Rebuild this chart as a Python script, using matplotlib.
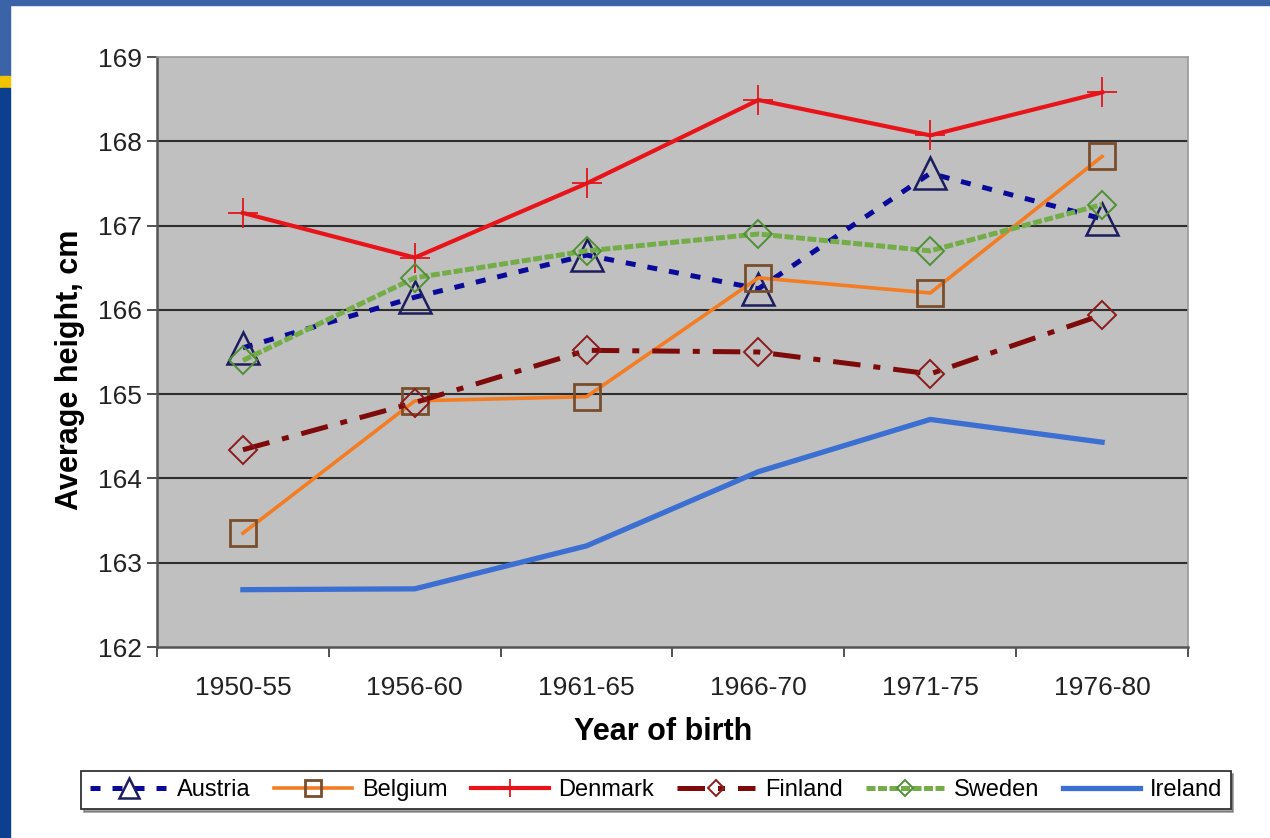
"""Average height by year of birth for six countries (recreated line chart)."""
import matplotlib
matplotlib.use("Agg")
import matplotlib.pyplot as plt
from matplotlib.patches import Rectangle

plt.rcParams["font.family"] = ["Liberation Sans", "DejaVu Sans"]

# Data
periods = ["1950-55", "1956-60", "1961-65", "1966-70", "1971-75", "1976-80"]
austria = [165.55, 166.15, 166.65, 166.25, 167.62, 167.08]
belgium = [163.35, 164.92, 164.97, 166.38, 166.20, 167.82]
denmark = [167.15, 166.62, 167.50, 168.49, 168.07, 168.58]
finland = [164.34, 164.90, 165.52, 165.50, 165.24, 165.94]
sweden = [165.40, 166.38, 166.70, 166.90, 166.70, 167.25]
ireland = [162.68, 162.69, 163.20, 164.08, 164.70, 164.43]
yticks = [162, 163, 164, 165, 166, 167, 168, 169]

fig = plt.figure(figsize=(12.7, 8.38), dpi=100)
fig.patch.set_facecolor("white")

# slide frame (blue bands on top and left, yellow accent)
W, H = 1270, 838
def px_rect(x, y, w, h, color):
    fig.patches.append(Rectangle((x / W, 1 - (y + h) / H), w / W, h / H,
                                 transform=fig.transFigure, color=color, zorder=0))
px_rect(0, 0, W, 5, "#3a63a8")
px_rect(0, 0, 10, 76, "#3a63a8")
px_rect(0, 76, 10, 12, "#f2c400")
px_rect(0, 88, 10, H - 88, "#0d3f8f")

ax = fig.add_axes([157 / W, 1 - 647 / H, (1188 - 157) / W, (647 - 57) / H])
ax.set_facecolor("#c0c0c0")

x = list(range(len(periods)))

ax.plot(x, austria, color="#0a0a9a", lw=3.6, dashes=(2.0, 2.4),
        marker="^", ms=23, mfc="none", mec="#1c1c60", mew=1.8, label="Austria", zorder=3)
ax.plot(x, belgium, color="#f47c22", lw=2.6,
        marker="s", ms=19, mfc="none", mec="#7a4e2c", mew=2.0, label="Belgium", zorder=3)
ax.plot(x, denmark, color="#e8141a", lw=3.0,
        marker="+", ms=22, mec="#e0161c", mew=1.3, label="Denmark", zorder=3)
ax.plot(x, finland, color="#7e0a0a", lw=3.6, dashes=(5.5, 2.6, 1.4, 2.6),
        marker="D", ms=14, mfc="none", mec="#8b1a1a", mew=1.4, label="Finland", zorder=3)
ax.plot(x, sweden, color="#74ad48", lw=3.6, dashes=(1.8, 0.5),
        marker="D", ms=14, mfc="none", mec="#4f9035", mew=1.4, label="Sweden", zorder=3)
ax.plot(x, ireland, color="#3c6fd2", lw=3.8, label="Ireland", zorder=3)

ax.set_xlim(-0.5, len(periods) - 0.5)
ax.set_ylim(162, 169)

# y axis
ax.set_yticks(yticks)
ax.tick_params(axis="y", direction="out", length=7, width=1.2, color="#333333",
               labelsize=19, labelcolor="#222222", pad=4)
for v in yticks[1:-1]:
    ax.axhline(v, color="#2e2e2e", lw=1.5, zorder=1)

# x axis: boundary ticks, labels in the middle of each category
ax.set_xticks([i - 0.5 for i in range(len(periods) + 1)])
ax.set_xticklabels([])
ax.set_xticks(x, minor=True)
ax.set_xticklabels(periods, minor=True)
ax.tick_params(axis="x", which="major", direction="out", length=7, width=1.2, color="#333333")
ax.tick_params(axis="x", which="minor", length=0, labelsize=19, labelcolor="#222222", pad=21)

for side in ["left", "bottom"]:
    ax.spines[side].set_color("#555555")
    ax.spines[side].set_linewidth(1.8)
for side in ["top", "right"]:
    ax.spines[side].set_color("#9a9a9a")
    ax.spines[side].set_linewidth(1.2)

ax.set_ylabel("Average height, cm", fontsize=22, fontweight="bold")
ax.yaxis.set_label_coords(-0.07, 0.47)
ax.set_xlabel("Year of birth", fontsize=22, fontweight="bold")
ax.xaxis.set_label_coords(0.491, -0.118)

leg = fig.legend(loc="center", bbox_to_anchor=(656 / W, 1 - 790 / H), ncol=6,
                 fontsize=17, frameon=True, fancybox=False, edgecolor="#333333",
                 markerscale=0.6, handlelength=3.3, columnspacing=1.0,
                 handletextpad=0.4, borderpad=0.35, borderaxespad=0, shadow=True)
leg.get_frame().set_linewidth(1.3)

fig.savefig("out.png", dpi=100)
